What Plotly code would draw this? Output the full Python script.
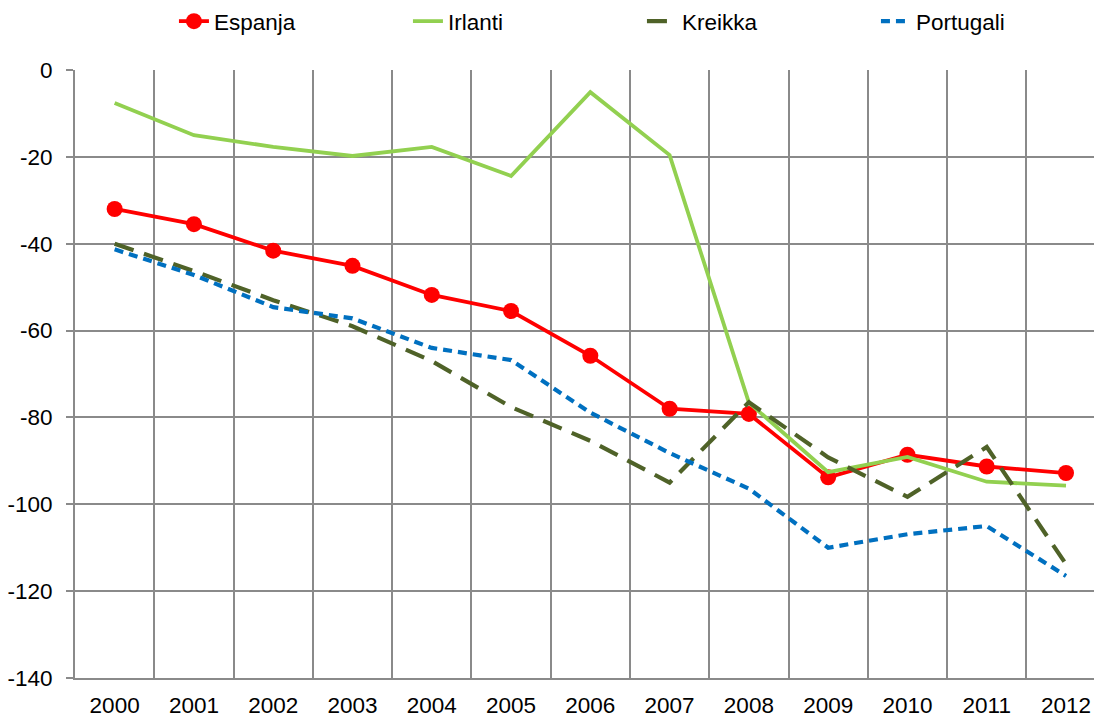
import plotly.graph_objects as go

years = ["2000", "2001", "2002", "2003", "2004", "2005", "2006",
         "2007", "2008", "2009", "2010", "2011", "2012"]

espanja = [-32.0, -35.5, -41.6, -45.1, -51.8, -55.5, -65.8, -78.0, -79.2, -93.8, -88.6, -91.3, -92.8]
irlanti = [-7.6, -15.0, -17.7, -19.8, -17.7, -24.4, -5.1, -19.6, -76.6, -92.6, -89.1, -94.8, -95.7]
kreikka = [-40.0, -46.3, -53.0, -59.0, -67.0, -77.6, -85.4, -95.0, -76.5, -89.2, -98.3, -86.8, -113.8]
portugali = [-41.3, -47.2, -54.6, -57.2, -64.0, -66.8, -78.9, -88.2, -96.4, -110.0, -106.9, -105.0, -116.5]

series_names = ["Espanja", "Irlanti", "Kreikka", "Portugali"]

y_ticks = [0, -20, -40, -60, -80, -100, -120, -140]

grid = "#8a8a8a"
font_family = "Liberation Sans, Arial, sans-serif"
fs = 22.5

fig = go.Figure()
fig.add_trace(go.Scatter(
    x=years, y=espanja, name=series_names[0], mode="lines+markers",
    line=dict(color="#FF0000", width=3.8),
    marker=dict(color="#FF0000", size=16, symbol="circle"),
))
fig.add_trace(go.Scatter(
    x=years, y=irlanti, name=series_names[1], mode="lines",
    line=dict(color="#92D050", width=3.8),
))
fig.add_trace(go.Scatter(
    x=years, y=kreikka, name=series_names[2], mode="lines",
    line=dict(color="#4F6228", width=4.2, dash="20px,11px"),
))
fig.add_trace(go.Scatter(
    x=years, y=portugali, name=series_names[3], mode="lines",
    line=dict(color="#0070C0", width=4.2, dash="9px,6px"),
))

fig.update_layout(
    width=1094, height=718,
    margin=dict(l=75, r=0, t=70, b=40, autoexpand=False),
    paper_bgcolor="white", plot_bgcolor="white",
    font=dict(family=font_family, size=fs, color="#000000"),
    showlegend=True,
    legend=dict(
        orientation="h", xref="container", yref="container",
        x=0.159, xanchor="left", y=1.0, yanchor="top",
        entrywidth=189, entrywidthmode="pixels",
        font=dict(family=font_family, size=fs, color="#000000"),
        bgcolor="rgba(0,0,0,0)",
    ),
    xaxis=dict(
        type="category", range=[-0.5, 12.353],
        tickson="boundaries", showgrid=True, gridcolor=grid, gridwidth=2,
        showline=True, linecolor=grid, linewidth=2,
        ticks="", ticklabelstandoff=6,
        tickfont=dict(family=font_family, size=fs, color="#000000"),
        fixedrange=True,
    ),
    yaxis=dict(
        range=[-140, 0], tickvals=y_ticks, ticktext=[str(v) for v in y_ticks],
        showgrid=True, gridcolor=grid, gridwidth=2,
        showline=True, linecolor=grid, linewidth=2,
        ticks="outside", ticklen=7, tickcolor=grid, tickwidth=2,
        ticklabelstandoff=9, zeroline=False,
        tickfont=dict(family=font_family, size=fs, color="#000000"),
        fixedrange=True,
    ),
)

fig.write_html(
    "out.html",
    config={"displayModeBar": False},
    post_script="document.body.style.margin='0';document.body.style.overflow='hidden';",
)
